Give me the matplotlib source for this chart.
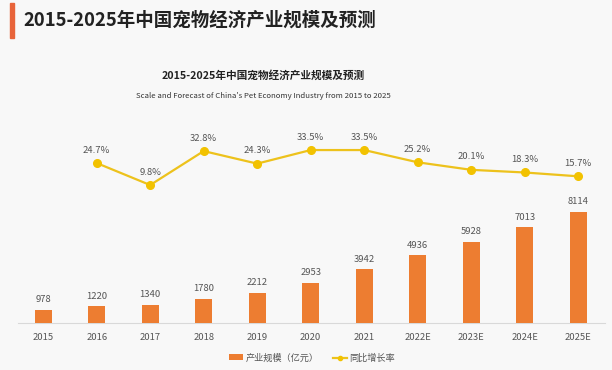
import matplotlib
matplotlib.use("Agg")
import matplotlib.pyplot as plt
from matplotlib.patches import Rectangle
from matplotlib.lines import Line2D
from matplotlib.patches import Patch

plt.rcParams['font.family'] = ['Noto Sans CJK SC', 'DejaVu Sans']

categories = ['2015', '2016', '2017', '2018', '2019', '2020', '2021', '2022E', '2023E', '2024E', '2025E']
scale_values = [978, 1220, 1340, 1780, 2212, 2953, 3942, 4936, 5928, 7013, 8114]
growth_idx = [1, 2, 3, 4, 5, 6, 7, 8, 9, 10]
growth_values = [24.7, 9.8, 32.8, 24.3, 33.5, 33.5, 25.2, 20.1, 18.3, 15.7]

page_title = '2015-2025年中国宠物经济产业规模及预测'
chart_title = '2015-2025年中国宠物经济产业规模及预测'
chart_subtitle = "Scale and Forecast of China's Pet Economy Industry from 2015 to 2025"
legend_bar = '产业规模（亿元）'
legend_line = '同比增长率'

W, H = 612, 370
bg = '#f8f8f8'
fig = plt.figure(figsize=(W / 100, H / 100), dpi=100, facecolor=bg)

def fx(px):
    return px / W

def fy(py):
    return 1 - py / H

# Page header
fig.patches.append(Rectangle((fx(10), fy(38)), fx(4), fy(3) - fy(38), transform=fig.transFigure,
                             color='#E8643A', zorder=5))
fig.text(fx(23), fy(20), page_title, fontsize=13.3, fontweight='bold', color='#222222',
         va='center', ha='left')

# Chart titles
fig.text(fx(263), fy(75), chart_title, fontsize=7.7, fontweight='bold', color='#222222',
         ha='center', va='center')
fig.text(fx(263), fy(96), chart_subtitle, fontsize=5.6, color='#333333', ha='center', va='center')

# Axes geometry
left_px, right_px, base_px, top_px = 18, 605, 323, 140
ax = fig.add_axes([fx(left_px), fy(base_px), fx(right_px - left_px), fy(top_px) - fy(base_px)])
ax.set_facecolor('none')
x = list(range(len(categories)))
px_per_unit = 111 / 8114.0
ax.set_ylim(0, (base_px - top_px) / px_per_unit)
ax.set_xlim(-0.47, 10.5)
bar_color = '#ED7D31'
ax.bar(x, scale_values, width=0.32, color=bar_color, zorder=3)
for xi, v in zip(x, scale_values):
    ax.annotate(str(v), (xi, v), xytext=(0, 4), textcoords='offset points', ha='center',
                va='bottom', fontsize=6.8, color='#555555')
ax.set_xticks(x)
ax.set_xticklabels(categories, fontsize=6.8, color='#555555')
ax.tick_params(axis='x', length=0, pad=7)
ax.set_yticks([])
for s in ['top', 'right', 'left']:
    ax.spines[s].set_visible(False)
ax.spines['bottom'].set_color('#d9d9d9')
ax.spines['bottom'].set_linewidth(0.8)

# Growth line on twin axis
ax2 = ax.twinx()
zero_px = 199.5
pct_px = 1.476
ax2.set_ylim(-(base_px - zero_px) / pct_px, (zero_px - top_px) / pct_px)
line_color = '#EDC21C'
ax2.plot(growth_idx, growth_values, color=line_color, lw=1.6, marker='o', markersize=5.5,
         markerfacecolor='#F2C200', markeredgecolor='#F2C200', zorder=4)
for xi, v in zip(growth_idx, growth_values):
    ax2.annotate(f'{v}%', (xi, v), xytext=(0, 6), textcoords='offset points', ha='center',
                 va='bottom', fontsize=6.8, color='#555555')
ax2.set_yticks([])
for s in ['top', 'right', 'left', 'bottom']:
    ax2.spines[s].set_visible(False)

# Legend
handles = [Patch(facecolor=bar_color, edgecolor='none'),
           Line2D([0], [0], color=line_color, lw=1.6, marker='o', markersize=3,
                  markerfacecolor='#F2C200', markeredgecolor='#F2C200')]
fig.legend(handles, [legend_bar, legend_line], loc='center', bbox_to_anchor=(fx(312), fy(358)),
           ncol=2, frameon=False, fontsize=6.6, handlelength=1.5, handleheight=0.6,
           columnspacing=1.6, handletextpad=0.3, labelcolor='#555555')

fig.savefig('out.png', dpi=100, facecolor=bg)
